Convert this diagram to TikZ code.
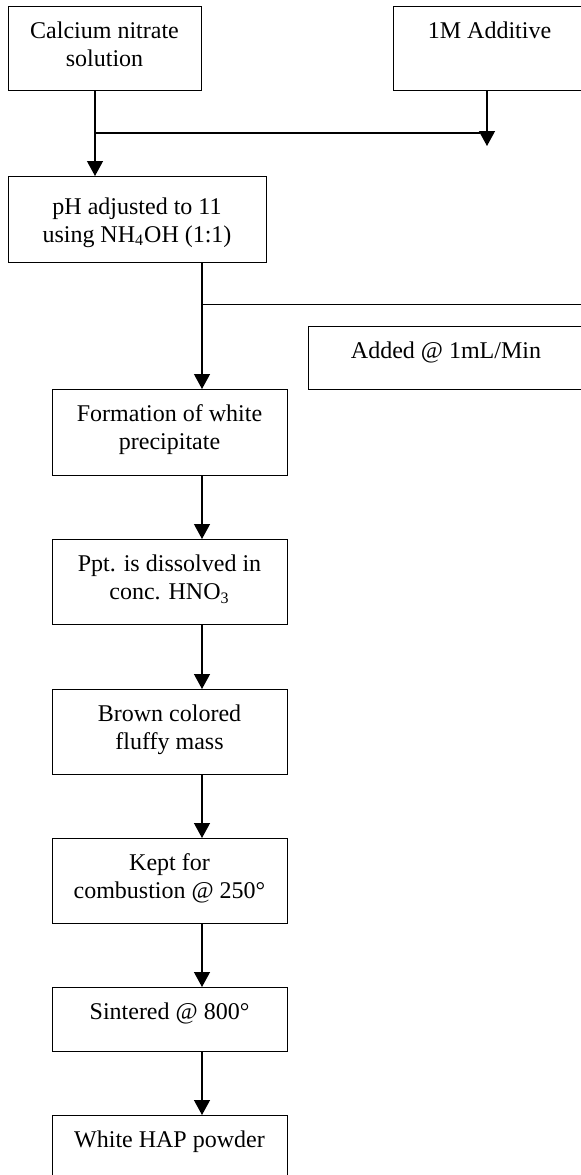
\documentclass[tikz,border=0pt]{standalone}
\usepackage{fontspec}
\setmainfont{Liberation Serif}
\usetikzlibrary{arrows.meta,calc}
\begin{document}
\begin{tikzpicture}[x=0.5pt,y=-0.5pt,
  box/.style={draw, line width=0.65pt, rectangle, inner sep=0pt, anchor=north west},
  txt/.style={anchor=north, inner sep=0pt, align=center, font=\fontsize{12}{14}\selectfont},
  conn/.style={line width=0.6pt},
  arr/.style={conn, -{Triangle[width=8pt,length=7.5pt]}}
]
\useasboundingbox (0,0) rectangle (581,1175);
\clip (0,0) rectangle (581,1175);

% boxes
\node[box, minimum width=96.5pt, minimum height=42pt] (b1) at (8,6) {};
\node[box, minimum width=96.5pt, minimum height=42pt] (b2) at (393,6) {};
\node[box, minimum width=129pt, minimum height=43pt] (ph) at (8,176) {};
\node[box, minimum width=138pt, minimum height=31.5pt] (add) at (308,326) {};
\node[box, minimum width=117.5pt, minimum height=43pt] (f1) at (52,389) {};
\node[box, minimum width=117.5pt, minimum height=42.5pt] (f2) at (52,539) {};
\node[box, minimum width=117.5pt, minimum height=42.5pt] (f3) at (52,689) {};
\node[box, minimum width=117.5pt, minimum height=42.5pt] (f4) at (52,838) {};
\node[box, minimum width=117.5pt, minimum height=32pt] (f5) at (52,987) {};
\node[box, minimum width=117.5pt, minimum height=32pt] (f6) at (52,1115) {};

% texts
\node[txt] (t1) at (104.5,18.4) {\strut Calcium nitrate\\\strut solution};
\node[txt] (t2) at (489.5,18.4) {\strut 1M Additive};
\node[txt] (tph) at (137,194) {\strut pH adjusted to 11\\\strut using NH\textsubscript{4}OH (1:1)};
\node[txt] (tadd) at (446,338.4) {\strut Added @ 1mL/Min};
\node[txt] (tf1) at (169.5,401.4) {\strut Formation of white\\\strut precipitate};
\node[txt] (tf2) at (169.5,551.4) {\strut Ppt. is dissolved in\\\strut conc. HNO\textsubscript{3}};
\node[txt] (tf3) at (169.5,701.4) {\strut Brown colored\\\strut fluffy mass};
\node[txt] (tf4) at (169.5,850.4) {\strut Kept for\\\strut combustion @ 250°};
\node[txt] (tf5) at (169.5,999.4) {\strut Sintered @ 800°};
\node[txt] (tf6) at (169.5,1127.4) {\strut White HAP powder};

% junctions and free ends
\coordinate (j1) at (95,133);
\coordinate (e1) at (480,133);
\coordinate (x2) at (487,0);
\coordinate (c2) at (487,146);
\coordinate (j3) at (202,304);
\coordinate (e3) at (581,304);
\coordinate (colx) at (202,0);

% connectors
\draw[arr] (j1 |- b1.south) -- (j1 |- ph.north);
\draw[conn] (j1) -- (e1);
\draw[arr] (x2 |- b2.south) -- (c2);
\draw[arr] (colx |- ph.south) -- (colx |- f1.north);
\draw[conn, line width=0.5pt] (j3) -- (e3);
\draw[arr] (colx |- f1.south) -- (colx |- f2.north);
\draw[arr] (colx |- f2.south) -- (colx |- f3.north);
\draw[arr] (colx |- f3.south) -- (colx |- f4.north);
\draw[arr] (colx |- f4.south) -- (colx |- f5.north);
\draw[arr] (colx |- f5.south) -- (colx |- f6.north);
\end{tikzpicture}
\end{document}
